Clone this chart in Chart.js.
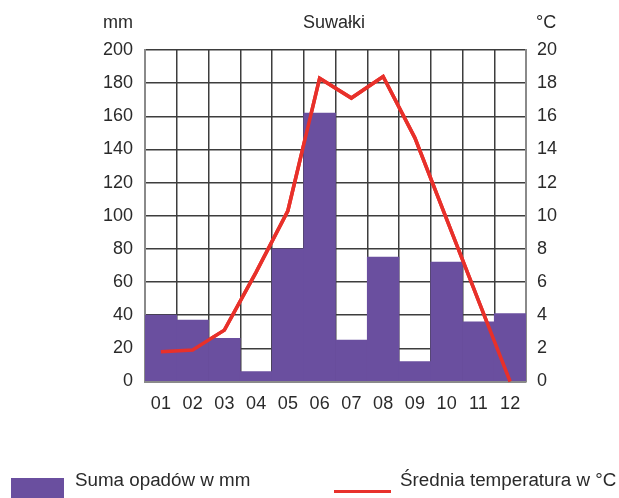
<!DOCTYPE html>
<html>
<head>
<meta charset="utf-8">
<script src="https://cdn.jsdelivr.net/npm/chart.js@4"></script>
<style>
  body { margin: 0; background: #fff; }
  #wrap { position: relative; width: 619px; height: 498px; overflow: hidden; font-family: "Liberation Sans", Arial, sans-serif; color: #2a2a2a; }
  #wrap canvas { position: absolute; left: 0; top: 0; }
  .lbl { position: absolute; white-space: nowrap; font-size: 18px; line-height: 18px; }
  .legend-text { position: absolute; white-space: nowrap; font-size: 18.8px; line-height: 19px; }
</style>
</head>
<body>
<div id="wrap">
  <canvas id="climate" width="619" height="498"></canvas>
  <span class="lbl" id="unit-left" style="left:103px; top:13px;">mm</span>
  <span class="lbl" id="title" style="left:303px; top:13px;">Suwałki</span>
  <span class="lbl" id="unit-right" style="left:536px; top:13px;">°C</span>

  <div style="position:absolute; left:11px; top:478px; width:53px; height:20px; background:#6a4f9f;"></div>
  <span class="legend-text" style="left:75px; top:470px;">Suma opadów w mm</span>
  <div style="position:absolute; left:334px; top:490px; width:57px; height:3px; background:#e8302a;"></div>
  <span class="legend-text" style="left:400px; top:470px;">Średnia temperatura w °C</span>
</div>
<script>
  // data
  const months = ['01', '02', '03', '04', '05', '06', '07', '08', '09', '10', '11', '12'];
  const precipitation = [40, 37, 26, 6, 80, 162, 25, 75, 12, 72, 36, 41];   // mm
  const temperature = [1.8, 1.9, 3.1, 6.6, 10.3, 18.3, 17.1, 18.4, 14.7, 9.8, 4.9, 0.0];  // °C
  const mmTicks = [0, 20, 40, 60, 80, 100, 120, 140, 160, 180, 200];
  const tempTicks = [0, 2, 4, 6, 8, 10, 12, 14, 16, 18, 20];

  const tickFont = { family: '"Liberation Sans", Arial, sans-serif', size: 18 };
  const gridColor = '#3d3d3d';
  const frameColor = '#8a8a8a';

  // draw the line once more after the grid (grid sits above the bars)
  const lineOnTop = {
    id: 'lineOnTop',
    afterDraw(chart) {
      const meta = chart.getDatasetMeta(1);
      if (meta && !meta.hidden) meta.controller.draw();
    }
  };

  const ctx = document.getElementById('climate').getContext('2d');

  new Chart(ctx, {
    data: {
      labels: months,
      datasets: [
        {
          type: 'bar',
          label: 'Suma opadów w mm',
          data: precipitation,
          yAxisID: 'y',
          backgroundColor: '#6a4f9f',
          borderWidth: 0,
          categoryPercentage: 1.0,
          barPercentage: 1.0
        },
        {
          type: 'line',
          label: 'Średnia temperatura w °C',
          data: temperature,
          yAxisID: 'y2',
          borderColor: '#e8302a',
          borderWidth: 3.5,
          pointRadius: 0,
          tension: 0,
          fill: false
        }
      ]
    },
    options: {
      responsive: false,
      animation: false,
      layout: { padding: { top: 50, left: 0, right: 0, bottom: 0 } },
      plugins: {
        legend: { display: false },
        title: { display: false },
        tooltip: { enabled: false }
      },
      scales: {
        x: {
          type: 'category',
          offset: true,
          z: 1,
          grid: { offset: true, color: gridColor, lineWidth: 1.5, drawTicks: false },
          border: { display: true, color: frameColor, width: 2 },
          ticks: { padding: 12, color: '#2a2a2a', font: tickFont, maxRotation: 0 },
          afterFit: s => { s.height = 116.5; }
        },
        y: {
          position: 'left',
          min: 0,
          max: 200,
          z: 1,
          afterBuildTicks: s => { s.ticks = mmTicks.map(v => ({ value: v })); },
          grid: { color: gridColor, lineWidth: 1.5, drawTicks: false },
          border: { display: true, color: frameColor, width: 2 },
          ticks: { padding: 12, color: '#2a2a2a', font: tickFont },
          afterFit: s => { s.width = 145; }
        },
        y2: {
          position: 'right',
          min: 0,
          max: 20,
          z: 1,
          afterBuildTicks: s => { s.ticks = tempTicks.map(v => ({ value: v })); },
          grid: { display: false, drawTicks: false },
          border: { display: true, color: frameColor, width: 2 },
          ticks: { padding: 11, color: '#2a2a2a', font: tickFont },
          afterFit: s => { s.width = 93; }
        }
      }
    },
    plugins: [lineOnTop]
  });
</script>
</body>
</html>
